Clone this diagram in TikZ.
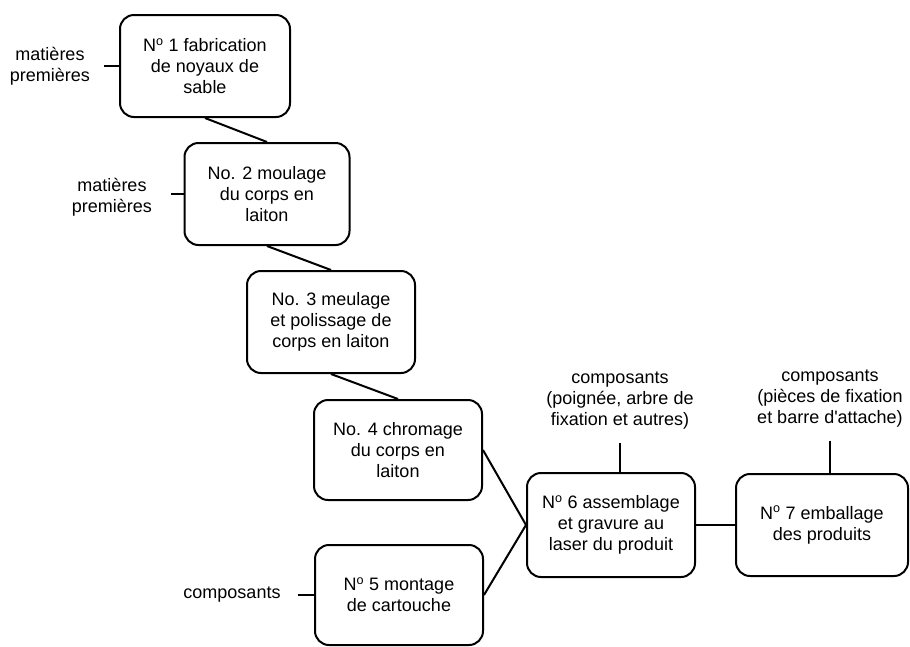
\documentclass[tikz,border=0pt]{standalone}
\usepackage{fontspec}
\setmainfont{Liberation Sans}
\newcommand\numo{N\textsuperscript{o}}
\begin{document}
\begin{tikzpicture}[x=1pt, y=-1pt, line width=2pt,
  etape/.style={draw, rounded corners=14pt, minimum width=168pt, minimum height=102pt,
    align=center, inner sep=0pt, font=\fontsize{18}{21}\selectfont},
  entree/.style={align=center, inner sep=0pt, font=\fontsize{18}{21}\selectfont}]
\useasboundingbox (0,0) rectangle (910,646);
% etapes
\node[etape, minimum width=170pt] (b1) at (205,66) {\numo\ 1 fabrication\\de noyaux de\\sable};
\node[etape, minimum width=165pt] (b2) at (267,194) {No. 2 moulage\\du corps en\\laiton};
\node[etape] (b3) at (331,322) {No. 3 meulage\\et polissage de\\corps en laiton};
\node[etape, minimum height=100pt] (b4) at (398,450) {No. 4 chromage\\du corps en\\laiton};
\node[etape, minimum height=100pt] (b5) at (399,595) {\numo\ 5 montage\\de cartouche};
\node[etape, minimum height=104pt] (b6) at (611,525) {\numo\ 6 assemblage\\et gravure au\\laser du produit};
\node[etape, minimum width=172pt] (b7) at (822,525) {\numo\ 7 emballage\\des produits};
% entrees
\node[entree] (e1) at (50,66) {matières\\premières};
\node[entree] (e2) at (112,197) {matières\\premières};
\node[entree] (e5) at (232,595) {composants};
\node[entree] (e6) at (620,401) {composants\\(poignée, arbre de\\fixation et autres)};
\node[entree] (e7) at (830,399) {composants\\(pièces de fixation\\et barre d\textquotesingle attache)};
% liaisons
\draw (b1.south) -- (b2.north);
\draw (b2.south) -- (b3.north);
\draw (b3.south) -- (b4.north);
\draw (b4.east) -- (b6.west);
\draw (b5.east) -- (b6.west);
\draw (b6.east) -- (b7.west);
\draw ([xshift=13pt]e1.east) -- (b1.west);
\draw ([xshift=18pt]e2.east |- b2.west) -- (b2.west);
\draw ([xshift=16pt]e5.east) -- (b5.west);
\draw ([yshift=-12pt]e6.south) -- (e6.south |- b6.north);
\draw ([yshift=-12pt]e7.south) -- (e7.south |- b7.north);
\end{tikzpicture}
\end{document}
